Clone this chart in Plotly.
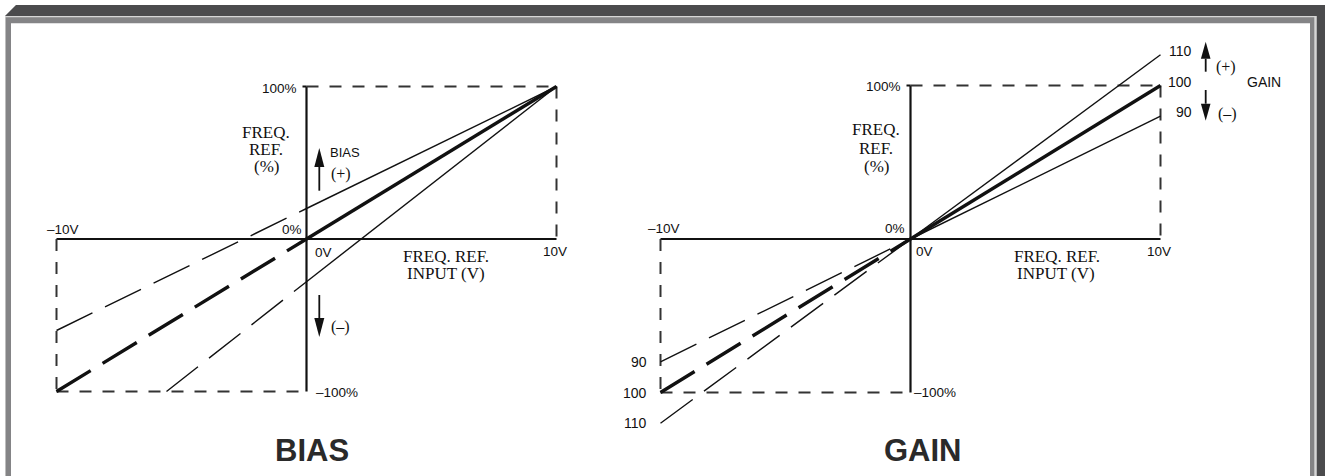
import plotly.graph_objects as go

W, H = 1325, 476

# ---------------- data ----------------
volt_pts = [-10, 0, 10]                 # FREQ. REF. INPUT (V)
bias_plus = [-60, 20, 100]              # BIAS (+) line, %
bias_nominal = [-100, 0, 100]           # nominal line, %
bias_minus_v = [-5.6, 0, 10]            # BIAS (-) line, V
bias_minus = [-100, -28, 100]           # BIAS (-) line, %
gain_110 = [-120, 0, 120]
gain_100 = [-100, 0, 100]
gain_90 = [-80, 0, 80]
gain_labels = ["110", "100", "90"]
v_limits = [-10, 10]
pct_limits = [-100, 100]

# ---------------- helpers (pixel -> paper) ----------------
def px(x):
    return x / W

def py(y):
    return 1 - y / H

SANS = "Liberation Sans, Arial, sans-serif"
SERIF = "Liberation Serif, Times New Roman, serif"
INK = "#111111"
SMALL = 13.5

fig = go.Figure()

panels = {
    "bias": dict(xa="x", ya="y", ox=306.5, ppv=25.0, oy=239.0, ppp=1.525),
    "gain": dict(xa="x2", ya="y2", ox=910.5, ppv=25.0, oy=239.0, ppp=1.535),
}
DOM_X = 290
DOM_TOP, DOM_BOT = 30, 446

for name, p in panels.items():
    axn = "xaxis" if p["xa"] == "x" else "xaxis2"
    ayn = "yaxis" if p["ya"] == "y" else "yaxis2"
    x0p, x1p = p["ox"] - DOM_X, p["ox"] + DOM_X
    fig.layout[axn] = dict(domain=[px(x0p), px(x1p)],
                           range=[(x0p - p["ox"]) / p["ppv"], (x1p - p["ox"]) / p["ppv"]],
                           visible=False, anchor=p["ya"], fixedrange=True)
    fig.layout[ayn] = dict(domain=[py(DOM_BOT), py(DOM_TOP)],
                           range=[-(DOM_BOT - p["oy"]) / p["ppp"], (p["oy"] - DOM_TOP) / p["ppp"]],
                           visible=False, anchor=p["xa"], fixedrange=True)

def add_line(xs, ys, xa, ya, width):
    fig.add_trace(go.Scatter(x=xs[:2], y=ys[:2], mode="lines", xaxis=xa, yaxis=ya,
                             line=dict(color=INK, width=width, dash="40px,14px"),
                             hoverinfo="skip", showlegend=False))
    fig.add_trace(go.Scatter(x=xs[1:], y=ys[1:], mode="lines", xaxis=xa, yaxis=ya,
                             line=dict(color=INK, width=width),
                             hoverinfo="skip", showlegend=False))

add_line(volt_pts, bias_plus, "x", "y", 1.4)
add_line(bias_minus_v, bias_minus, "x", "y", 1.4)
add_line(volt_pts, bias_nominal, "x", "y", 3.4)
add_line(volt_pts, gain_110, "x2", "y2", 1.4)
add_line(volt_pts, gain_90, "x2", "y2", 1.4)
add_line(volt_pts, gain_100, "x2", "y2", 3.4)

shapes = []
def rect(x0, y0, x1, y1, color):
    shapes.append(dict(type="rect", xref="paper", yref="paper", x0=px(x0), x1=px(x1),
                       y0=py(y1), y1=py(y0), fillcolor=color, line=dict(width=0), layer="below"))

def poly(pts, color, layer="below"):
    path = "M " + " L ".join(f"{px(a):.6f},{py(b):.6f}" for a, b in pts) + " Z"
    shapes.append(dict(type="path", xref="paper", yref="paper", path=path,
                       fillcolor=color, line=dict(width=0), layer=layer))

# frame
rect(5, 16, 1316.7, 476, "#d6d6d6")
rect(5.7, 17.3, 1314.3, 476, "#848486")
rect(11, 23.3, 1310, 476, "#ffffff")
poly([(16, 5), (1325, 5), (1325, 476), (1316.7, 476), (1316.7, 16), (5, 16)], "#4b4b4d")

# axes and dashed limits
for name, p in panels.items():
    xa, ya = p["xa"], p["ya"]
    lo_v, hi_v = v_limits
    lo_p, hi_p = pct_limits
    shapes.append(dict(type="line", xref=xa, yref=ya, x0=0, x1=0, y0=lo_p, y1=hi_p,
                       line=dict(color=INK, width=2.2), layer="below"))
    shapes.append(dict(type="line", xref=xa, yref=ya, x0=lo_v, x1=hi_v, y0=0, y1=0,
                       line=dict(color=INK, width=2.2), layer="below"))
    shapes.append(dict(type="line", xref=xa, yref=ya, x0=-0.16, x1=0, y0=hi_p, y1=hi_p,
                       line=dict(color=INK, width=2), layer="below"))
    dl = dict(color="#333333", width=2, dash="12px,11px")
    shapes.append(dict(type="line", xref=xa, yref=ya, x0=0, x1=hi_v, y0=hi_p, y1=hi_p, line=dl, layer="below"))
    shapes.append(dict(type="line", xref=xa, yref=ya, x0=hi_v, x1=hi_v, y0=hi_p, y1=0, line=dl, layer="below"))
    shapes.append(dict(type="line", xref=xa, yref=ya, x0=lo_v, x1=lo_v, y0=0, y1=lo_p, line=dl, layer="below"))
    shapes.append(dict(type="line", xref=xa, yref=ya, x0=lo_v, x1=0, y0=lo_p, y1=lo_p, line=dl, layer="below"))

# arrows (shaft + narrow filled head)
def arrow(x, tail_y, tip_y, head_len=19, half_w=5):
    d = 1 if tail_y > tip_y else -1
    base = tip_y + d * head_len
    shapes.append(dict(type="line", xref="paper", yref="paper", x0=px(x), x1=px(x),
                       y0=py(tail_y), y1=py(base), line=dict(color=INK, width=1.8), layer="above"))
    poly([(x, tip_y), (x + half_w, base), (x - half_w, base)], INK, layer="above")

arrow(319.3, 190.7, 148.0)
arrow(319.3, 295, 337.0)
arrow(1205.7, 71.7, 41.7, head_len=17, half_w=4.8)
arrow(1205.7, 90, 120.7, head_len=17, half_w=4.8)

fig.update_layout(shapes=shapes)

ann = []
def label(text, x, y, size=SMALL, font=SANS, xanchor="center", color=INK, bold=False):
    if bold:
        text = f"<b>{text}</b>"
    ann.append(dict(text=text, x=px(x), y=py(y), xref="paper", yref="paper",
                    xanchor=xanchor, yanchor="middle", showarrow=False,
                    font=dict(family=font, size=size, color=color)))

# BIAS panel text
label("100%", 299, 88, xanchor="right")
label("0%", 303.5, 229, xanchor="right")
label("0V", 313, 252, xanchor="left")
label("–100%", 314, 392.5, xanchor="left")
label("–10V", 62.5, 229)
label("10V", 555, 251)
label("FREQ.", 266, 132, size=17, font=SERIF)
label("REF.", 266, 149.5, size=17, font=SERIF)
label("(%)", 266, 166, size=17, font=SERIF)
label("FREQ. REF.", 446, 256, size=17, font=SERIF)
label("INPUT (V)", 446, 273, size=17, font=SERIF)
label("BIAS", 345, 152, size=13)
label("(+)", 341, 174, size=16, font=SERIF)
label("(–)", 340, 327, size=16, font=SERIF)
label("BIAS", 311.7, 450, size=31, color="#2a2a2a", bold=True)

# GAIN panel text
label("100%", 903, 86, xanchor="right")
label("0%", 906.5, 228, xanchor="right")
label("0V", 914, 251, xanchor="left")
label("–100%", 912, 392.5, xanchor="left")
label("–10V", 664, 228.5)
label("10V", 1159, 251)
label("FREQ.", 876, 130, size=17, font=SERIF)
label("REF.", 876, 148, size=17, font=SERIF)
label("(%)", 876, 166.5, size=17, font=SERIF)
label("FREQ. REF.", 1057, 256, size=17, font=SERIF)
label("INPUT (V)", 1056, 273.5, size=17, font=SERIF)
label("(+)", 1226, 67, size=16, font=SERIF)
label("(–)", 1227, 113.5, size=16, font=SERIF)
label("GAIN", 1264, 81.5, size=14)
label("GAIN", 923.3, 450, size=31, color="#2a2a2a", bold=True)

for lab, line in zip(gain_labels, [gain_110, gain_100, gain_90]):
    ann.append(dict(text=lab, x=volt_pts[-1], y=line[-1], xref="x2", yref="y2",
                    xanchor="right", yanchor="middle", xshift=33, yshift=4, showarrow=False,
                    font=dict(family=SANS, size=14, color=INK)))
    ann.append(dict(text=lab, x=volt_pts[0], y=line[0], xref="x2", yref="y2",
                    xanchor="right", yanchor="middle", xshift=-12, yshift=0, showarrow=False,
                    font=dict(family=SANS, size=14, color=INK)))

fig.update_layout(annotations=ann)

fig.update_layout(width=W, height=H, margin=dict(l=0, r=0, t=0, b=0),
                  paper_bgcolor="#ffffff", plot_bgcolor="rgba(0,0,0,0)",
                  showlegend=False)

fig.write_html("out.html", config={"displayModeBar": False},
               post_script="document.body.style.margin='0px';document.body.style.padding='0px';")
